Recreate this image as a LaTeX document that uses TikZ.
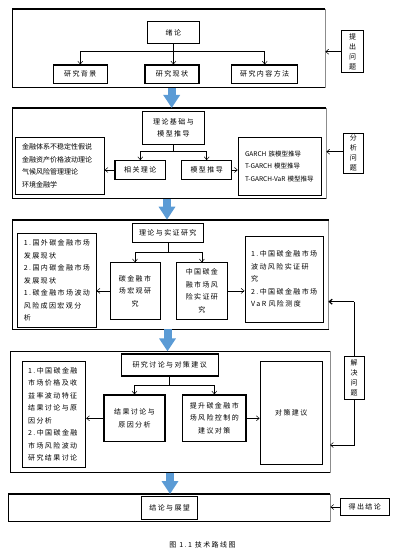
\documentclass[tikz,border=0pt]{standalone}
\usepackage{fontspec}
\newfontfamily\cjk[LetterSpace=20]{Noto Sans CJK SC}
\newfontfamily\cjktight{Noto Sans CJK SC}
\definecolor{flowblue}{HTML}{5B9BD5}
\definecolor{flowedge}{HTML}{41719C}
\definecolor{framegray}{HTML}{8C8C8C}
\usepackage{tikz}
\usetikzlibrary{arrows.meta, positioning, calc}

\begin{document}
\begin{tikzpicture}[x=1pt, y=-1pt,
    frame/.style={rectangle, draw=framegray, line width=0.6pt,
                  inner sep=0pt},
    box/.style={rectangle, draw=black, line width=1.1pt, inner sep=0pt,
                font={\cjk\fontsize{7}{12.5}\selectfont}, align=center},
    thinbox/.style={rectangle, draw=black, line width=0.5pt, inner sep=0pt,
                    font={\cjk\fontsize{7}{12.5}\selectfont}, align=center},
    listbox/.style={rectangle, draw=black, line width=1.1pt, inner sep=0pt,
                    font={\cjk\fontsize{7}{12.5}\selectfont}, align=left},
    side/.style={rectangle, draw=black, line width=0.8pt, inner sep=0pt,
                 font={\cjk\fontsize{7}{10}\selectfont}, align=center},
    link/.style={-{Straight Barb[length=3pt,width=5pt]}, line width=0.5pt},
    flow/.style={-{Triangle[length=13pt,width=16pt]}, line width=8pt,
                 draw=flowblue}
  ]
    \useasboundingbox (0,0) rectangle (400,548);
    % Frames (one per stage)
    \node[frame, minimum width=312.3pt, minimum height=78pt]    (f1) at (168.9,48.3) {};
    \node[frame, minimum width=313.3pt, minimum height=90pt]    (f2) at (169.4,153.3) {};
    \node[frame, minimum width=315.6pt, minimum height=109pt]   (f3) at (170.5,274.5) {};
    \node[frame, minimum width=319.3pt, minimum height=120.6pt] (f4) at (170.4,412) {};
    \node[frame, minimum width=321.7pt, minimum height=26.7pt]  (f5) at (169.2,507.7) {};
    \foreach \f in {f1,f2,f3,f4,f5} {
      \draw[line width=1.6pt] (\f.north west) -- (\f.north east);
      \draw[line width=1.6pt] (\f.south west) -- (\f.south east);
      \draw[line width=0.6pt] (\f.north west) -- (\f.south west);
    }
    % Stage 1 (y=9..87)
    \node[box, minimum width=51.3pt, minimum height=21.6pt] (xulun) at (173.4,32.5) {绪论};
    \node[box, minimum width=54pt, minimum height=18.3pt]   (bj) at (80.3,74.2) {研究背景};
    \node[box, minimum width=54pt, minimum height=18.3pt]   (xz) at (172,74.2) {研究现状};
    \node[box, minimum width=66pt, minimum height=18.3pt]   (nr) at (264.7,74.2) {研究内容方法};
    \node[side, minimum width=21.6pt, minimum height=42pt]  (tichu) at (352.5,51.7) {提\\出\\问\\题};
    \coordinate (j1) at (173.4,51.7);
    \draw[line width=0.5pt] (xulun) -- (j1);
    \draw[link] (j1) -| (bj.north);
    \draw[link] (j1) -- (j1 |- xz.north);
    \draw[link] (j1) -| (nr.north);
    \draw[link] (tichu.west) -- (tichu.west -| f1.east);
    % Stage 2 (y=108..198)
    \node[box, minimum width=61.6pt, minimum height=32.6pt] (jichu) at (173.5,128) {理论基础与\\模型推导};
    \node[box, minimum width=50.7pt, minimum height=18.6pt] (xg) at (140.3,170) {相关理论};
    \node[box, minimum width=50pt, minimum height=18.6pt]   (tx) at (206.7,170) {模型推导};
    \node[thinbox, minimum width=89.3pt, minimum height=56.7pt, align=left,
          text width=75pt, font={\cjktight\fontsize{7}{12.5}\selectfont}] (llun) at (59.7,165.7)
      {金融体系不稳定性假说\\金融资产价格波动理论\\气候风险管理理论\\环境金融学};
    \node[listbox, minimum width=83.4pt, minimum height=57.7pt, text width=70pt,
          font={\cjktight\fontsize{6.5}{12.5}\selectfont}] (mx) at (280,166.2)
      {GARCH 族模型推导\\T-GARCH 模型推导\\T-GARCH-VaR 模型推导};
    \node[side, line width=0.5pt, minimum width=20pt, minimum height=40pt] (fenxi) at (353.3,153.3) {分\\析\\问\\题};
    \coordinate (j2) at (173.5,151.7);
    \draw[line width=0.5pt] (jichu) -- (j2);
    \draw[link] (j2) -| (xg.north);
    \draw[link] (j2) -| (tx.north);
    \draw[link] (xg.west) -- (xg.west -| llun.east);
    \draw[link] (tx.east) -- (tx.east -| mx.west);
    \draw[link] (fenxi.west |- j2) -- (j2 -| f2.east);
    % Stage 3 (y=220..329)
    \node[box, minimum width=71pt, minimum height=19.4pt]   (shizheng) at (167.8,233) {理论与实证研究};
    \node[thinbox, line width=0.8pt, minimum width=50pt, minimum height=56.3pt] (hg) at (135,290.9)
      {碳金融市\\场宏观研\\究};
    \node[thinbox, line width=0.8pt, minimum width=51.7pt, minimum height=56.3pt] (sz) at (201.9,290.9)
      {中国碳金\\融市场风\\险实证研\\究};
    \node[listbox, minimum width=78.3pt, minimum height=94.4pt, text width=66pt] (l3) at (56.9,280.5)
      {1.国外碳金融市场\\发展现状\\2.国内碳金融市场\\发展现状\\1.碳金融市场波动\\风险成因宏观分\\析};
    \node[listbox, minimum width=78.3pt, minimum height=86.3pt, text width=66pt] (r3) at (284.2,279.2)
      {1.中国碳金融市场\\波动风险实证研\\究\\2.中国碳金融市场\\VaR 风险测度};
    \coordinate (j3) at (167.8,252.7);
    \draw[line width=0.5pt] (shizheng) -- (j3);
    \draw[link] (j3) -| (hg.north);
    \draw[link] (j3) -| (sz.north);
    \draw[link] (hg.west) -- (hg.west -| l3.east);
    \draw[link] (sz.east) -- (sz.east -| r3.west);
    % Stage 4 (y=352..472)
    \node[box, minimum width=97.3pt, minimum height=22pt]   (taolun) at (169.7,365) {研究讨论与对策建议};
    \node[box, minimum width=61pt, minimum height=46.7pt]   (jg) at (134.5,418.3) {结果讨论与\\原因分析};
    \node[box, minimum width=63.3pt, minimum height=46.7pt] (ts) at (214.3,418.3) {提升碳金融市\\场风险控制的\\建议对策};
    \node[listbox, line width=0.9pt, minimum width=63pt, minimum height=105.3pt, text width=52pt] (l4) at (54.2,414.3)
      {1.中国碳金融\\市场价格及收\\益率波动特征\\结果讨论与原\\因分析\\2.中国碳金融\\市场风险波动\\研究结果讨论};
    \node[thinbox, minimum width=62.7pt, minimum height=102.3pt] (dc) at (291.3,412.8) {对策建议};
    \node[side, minimum width=20.3pt, minimum height=42.3pt] (jiejue) at (354.1,377.8) {解\\决\\问\\题};
    \coordinate (j4) at (169.7,385.7);
    \draw[line width=0.5pt] (taolun) -- (j4);
    \draw[link] (j4) -| (jg.north);
    \draw[link] (j4) -| (ts.north);
    \draw[link] (jg.west) -- (jg.west -| l4.east);
    \draw[link] (ts.east) -- (ts.east -| dc.west);
    % Feedback from "解决问题"
    \coordinate (fb3) at (328.3,301.7);
    \coordinate (fb4) at (330,445);
    \draw[line width=0.5pt] (jiejue.north) -- (jiejue.north |- fb3);
    \draw[link, line width=1.2pt] (jiejue.north |- fb3) -- (fb3);
    \draw[link] (jiejue.south) |- (fb4);
    % Stage 5 (y=494..521)
    \node[box, minimum width=56pt, minimum height=23.3pt]   (zw) at (169.7,507.7) {结论与展望};
    \node[side, minimum width=48.3pt, minimum height=17.4pt] (dechu) at (364.8,507) {得出结论};
    \draw[link] (dechu.west) -- (dechu.west -| f5.east);
    % Flow arrows between stages
    \draw[flow] (f1.south -| 171.7,0) -- (f2.north -| 171.7,0);
    \draw[flow] (f2.south -| 167,0) -- (f3.north -| 167,0);
    \draw[flow] (f3.south -| 167.5,0) -- (f4.north -| 167.5,0);
    \draw[flow] (f4.south -| 170,0) -- (f5.north -| 170,0);
    % Caption
    \node[font={\cjk\fontsize{7}{9}\selectfont}] (cap) at (202.5,544.5) {图 1.1 技术路线图};
\end{tikzpicture}
\end{document}
